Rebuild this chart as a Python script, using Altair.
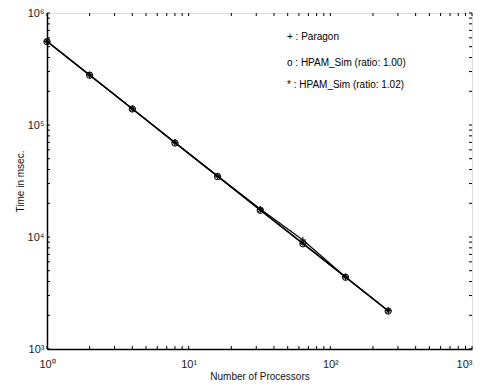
import altair as alt
import pandas as pd

processors = [1, 2, 4, 8, 16, 32, 64, 128, 256]
paragon = [5.6e5, 2.8e5, 1.4e5, 7.0e4, 3.5e4, 1.78e4, 9.4e3, 4.4e3, 2.2e3]
sim_100 = [5.55e5, 2.78e5, 1.39e5, 6.9e4, 3.46e4, 1.73e4, 8.7e3, 4.37e3, 2.18e3]
sim_102 = [5.6e5, 2.8e5, 1.4e5, 7.0e4, 3.5e4, 1.75e4, 8.8e3, 4.4e3, 2.2e3]
series_names = ["Paragon", "HPAM_Sim (ratio: 1.00)", "HPAM_Sim (ratio: 1.02)"]
legend_lines = ["+ : Paragon", "o : HPAM_Sim (ratio: 1.00)", "* : HPAM_Sim (ratio: 1.02)"]
x_major = [1, 10, 100, 1000]
y_major = [1e3, 1e4, 1e5, 1e6]

W, H = 425, 336

rows = []
for name, vals in zip(series_names, [paragon, sim_100, sim_102]):
    for p, v in zip(processors, vals):
        rows.append({"p": p, "t": v, "series": name})
df = pd.DataFrame(rows)

xscale = alt.Scale(type="log", domain=[1, 1000])
yscale = alt.Scale(type="log", domain=[1e3, 1e6])

xlab = "datum.value==1?'10⁰':datum.value==10?'10¹':datum.value==100?'10²':'10³'"
ylab = "datum.value==1000?'10³':datum.value==10000?'10⁴':datum.value==100000?'10⁵':'10⁶'"

xaxis = alt.Axis(values=x_major, labelExpr=xlab, ticks=False, grid=False,
                 title="Number of Processors", titleFont="Liberation Sans",
                 titleFontSize=10, titleFontWeight="normal", titlePadding=2,
                 titleColor="#111",
                 labelFont="Liberation Sans", labelFontSize=11, labelColor="#222",
                 labelPadding=9, domainColor="black", domainWidth=1.5, labelFlush=False,
                 labelAlign={"condition": {"test": "datum.value >= 1000", "value": "right"},
                             "value": "center"})
yaxis = alt.Axis(values=y_major, labelExpr=ylab, ticks=False, grid=False,
                 title="Time in msec.", titleFont="Liberation Sans",
                 titleFontSize=10, titleFontWeight="normal", titlePadding=2,
                 titleColor="#111",
                 labelFont="Liberation Sans", labelFontSize=11, labelColor="#222",
                 labelPadding=3, domainColor="black", domainWidth=1.5, labelFlush=False)

X = lambda f: alt.X(f, scale=xscale, axis=xaxis)
Y = lambda f: alt.Y(f, scale=yscale, axis=yaxis)

base = alt.Chart(df)
lines = base.mark_line(color="black", strokeWidth=1.2).encode(
    x=X("p:Q"), y=Y("t:Q"), detail="series:N",
)

plus_path = "M-1,0L1,0M0,-1L0,1"
star_path = "M-1,0L1,0M0,-1L0,1M-0.7,-0.7L0.7,0.7M-0.7,0.7L0.7,-0.7"
shape_map = {series_names[0]: plus_path, series_names[1]: "circle", series_names[2]: star_path}

pts = []
for name in series_names:
    pts.append(
        base.transform_filter(alt.datum.series == name).mark_point(
            shape=shape_map[name], filled=False, color="black", size=40, strokeWidth=1, opacity=1
        ).encode(x=X("p:Q"), y=Y("t:Q"))
    )

# minor ticks (inside the box)
xt = [m * d for d in [1, 10, 100] for m in range(1, 10)] + [1000]
yt = [m * d for d in [1e3, 1e4, 1e5] for m in range(1, 10)] + [1e6]
xtdf = pd.DataFrame({"p": xt})
ytdf = pd.DataFrame({"t": yt})
tl = 3
xt_bot = alt.Chart(xtdf).mark_rule(color="black", strokeWidth=1).encode(
    x=X("p:Q"), y=alt.value(H), y2=alt.value(H - tl))
xt_top = alt.Chart(xtdf).mark_rule(color="black", strokeWidth=1).encode(
    x=X("p:Q"), y=alt.value(0), y2=alt.value(tl))
yt_l = alt.Chart(ytdf).mark_rule(color="black", strokeWidth=1).encode(
    y=Y("t:Q"), x=alt.value(0), x2=alt.value(tl))
yt_r = alt.Chart(ytdf).mark_rule(color="black", strokeWidth=1).encode(
    y=Y("t:Q"), x=alt.value(W), x2=alt.value(W - tl))

legs = []
for txt, yy in zip(legend_lines, [24, 50, 72]):
    legs.append(
        alt.Chart(pd.DataFrame({"txt": [txt]})).mark_text(
            align="left", baseline="middle", font="Liberation Sans", fontSize=10, color="black"
        ).encode(text="txt:N", x=alt.value(240), y=alt.value(yy))
    )

chart = alt.layer(lines, *pts, xt_bot, xt_top, yt_l, yt_r, *legs).properties(
    width=W, height=H,
    autosize=alt.AutoSizeParams(type="none"),
    padding={"left": 39, "top": 5, "right": 1, "bottom": 31},
).configure_view(stroke="black", strokeWidth=1.5).configure(background="white")

chart.save("out.html", embed_options={"renderer": "svg", "actions": False})
